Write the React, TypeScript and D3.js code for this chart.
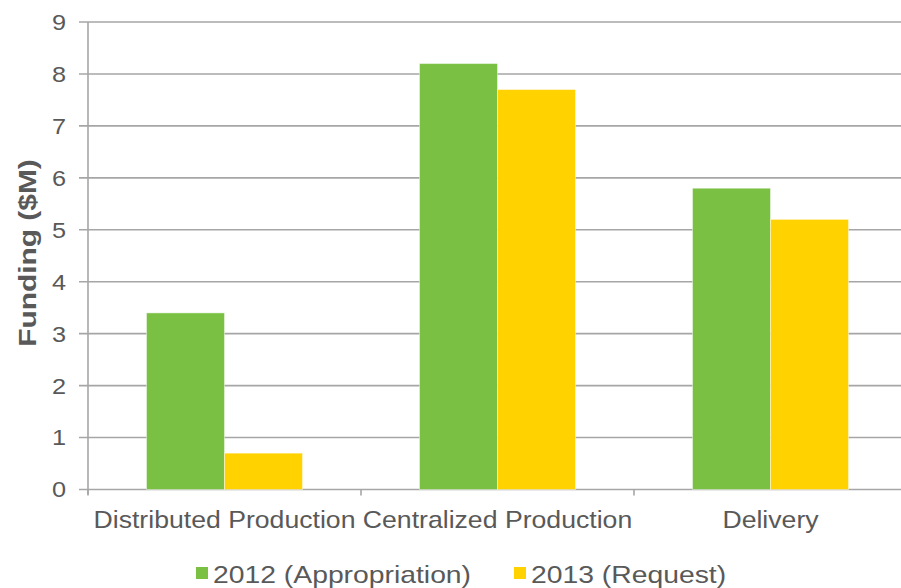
import React from "react";
import * as d3 from "d3";

const categories = ["Distributed Production", "Centralized Production", "Delivery"];
const seriesNames = ["2012 (Appropriation)", "2013 (Request)"];
const appropriation2012 = [3.4, 8.2, 5.8];
const request2013 = [0.7, 7.7, 5.2];
const yTicks = [0, 1, 2, 3, 4, 5, 6, 7, 8, 9];

const colors = ["#7AC043", "#FFD200"];
const W = 901;
const H = 588;
const left = 88;
const right = 907;
const top = 22;
const bottom = 489.5;
const font = "'Liberation Sans', Arial, sans-serif";
const textColor = "#595959";
const gridColor = "#A6A6A6";

// Text drawn with a horizontal stretch (wide glyph style)
function Label(props: {
  x: number;
  y: number;
  sx: number;
  size: number;
  anchor?: string;
  bold?: boolean;
  rotate?: number;
  dy?: string;
  children: React.ReactNode;
}) {
  const { x, y, sx, size, anchor = "start", bold, rotate = 0, dy, children } = props;
  return (
    <text
      transform={`translate(${x},${y}) rotate(${rotate}) scale(${sx},1)`}
      textAnchor={anchor}
      dy={dy}
      fontFamily={font}
      fontSize={size}
      fontWeight={bold ? "bold" : "normal"}
      fill={textColor}
    >
      {children}
    </text>
  );
}

export default function App() {
  const x = d3
    .scaleBand<string>()
    .domain(categories)
    .range([left, right])
    .paddingInner(117 / 273)
    .paddingOuter(117 / 273 / 2);
  const inner = d3.scaleBand<number>().domain([0, 1]).range([0, x.bandwidth()]);
  const y = d3.scaleLinear().domain([0, 9]).range([bottom, top]);
  const series = [appropriation2012, request2013];
  const step = x.step();

  return (
    <svg width={W} height={H} style={{ display: "block", position: "absolute", left: 0, top: 0 }}>
      <rect width={W} height={H} fill="#fff" />
      {/* gridlines */}
      {yTicks.map((t) => (
        <line key={t} x1={left - 9} x2={W} y1={y(t)} y2={y(t)} stroke={gridColor} strokeWidth={1.6} />
      ))}
      {/* y axis line */}
      <line x1={left} x2={left} y1={y(9)} y2={bottom + 5} stroke={gridColor} strokeWidth={1.6} />
      {/* category ticks */}
      {categories.map((c, i) => (
        <line
          key={c}
          x1={left + i * step}
          x2={left + i * step}
          y1={bottom}
          y2={bottom + 6}
          stroke={gridColor}
          strokeWidth={1.6}
        />
      ))}
      {/* bars */}
      {categories.map((c, ci) =>
        series.map((s, si) => (
          <rect
            key={c + si}
            x={(x(c) as number) + (inner(si) as number)}
            y={y(s[ci])}
            width={inner.bandwidth()}
            height={bottom - y(s[ci])}
            fill={colors[si]}
            stroke="rgba(255,255,255,0.45)"
            strokeWidth={1}
          />
        ))
      )}
      {/* y tick labels */}
      {yTicks.map((t) => (
        <Label key={t} x={66} y={y(t)} dy="0.36em" sx={1.15} size={22} anchor="end">
          {t}
        </Label>
      ))}
      {/* category labels */}
      {categories.map((c) => (
        <Label
          key={c}
          x={(x(c) as number) + x.bandwidth() / 2}
          y={528}
          sx={1.11}
          size={24}
          anchor="middle"
        >
          {c}
        </Label>
      ))}
      {/* y axis title */}
      <Label x={36} y={253} sx={1.3} size={23} anchor="middle" bold rotate={-90}>
        Funding ($M)
      </Label>
      {/* legend */}
      {seriesNames.map((n, i) => {
        const lx = i === 0 ? 196 : 514;
        return (
          <g key={n}>
            <rect x={lx} y={567} width={12} height={12} fill={colors[i]} />
            <Label x={lx + 17} y={583} sx={1.18} size={24}>
              {n}
            </Label>
          </g>
        );
      })}
    </svg>
  );
}
